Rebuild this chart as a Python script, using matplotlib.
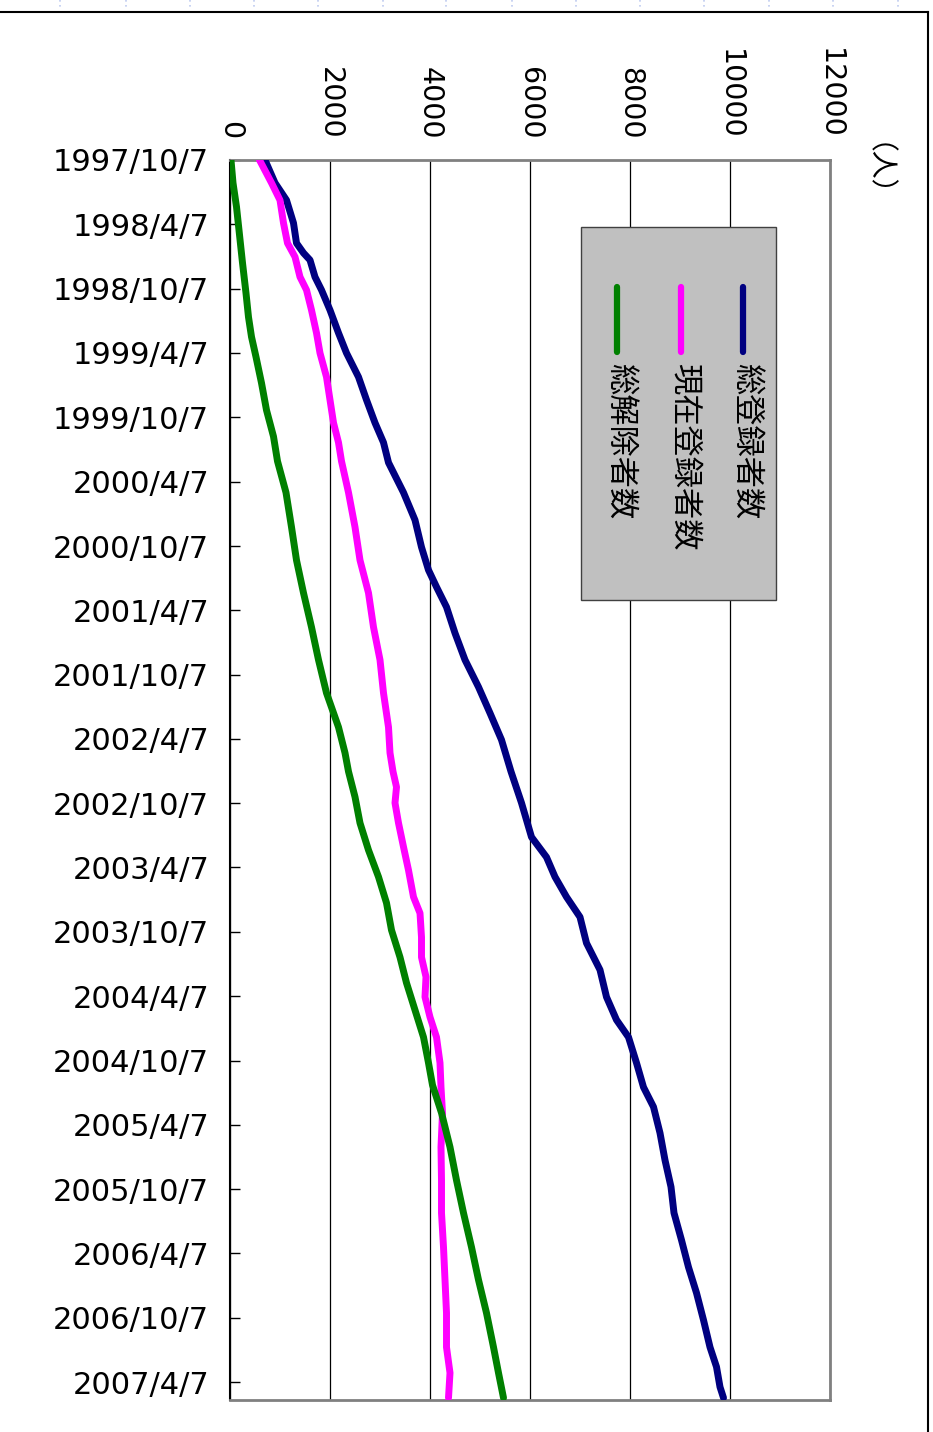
import matplotlib
matplotlib.use('Agg')
import matplotlib.pyplot as plt
import matplotlib.dates as mdates
from matplotlib.lines import Line2D
from matplotlib.patches import Rectangle
import numpy as np

# 総登録者数
total_dates = ['1997-10-07', '1997-12-11', '1998-01-29', '1998-04-04', '1998-05-31',
               '1998-06-28', '1998-07-18', '1998-09-04', '1998-10-11', '1998-12-07',
               '1999-02-10', '1999-04-08', '1999-06-15', '1999-08-19', '1999-10-23',
               '1999-12-18', '2000-02-13', '2000-05-08', '2000-07-25', '2000-10-10',
               '2000-12-14', '2001-01-31', '2001-03-29', '2001-06-11', '2001-08-26',
               '2001-11-11', '2002-01-24', '2002-04-10', '2002-07-09', '2002-10-06',
               '2003-01-11', '2003-03-09', '2003-05-04', '2003-06-30', '2003-08-26',
               '2003-11-08', '2004-01-23', '2004-04-09', '2004-06-13', '2004-08-01',
               '2004-10-13', '2004-12-21', '2005-02-15', '2005-04-30', '2005-07-16',
               '2005-09-30', '2005-12-13', '2006-02-28', '2006-05-16', '2006-07-28',
               '2006-10-13', '2006-12-29', '2007-02-23', '2007-04-21', '2007-05-22']
total_vals = [700, 900, 1130, 1270, 1330,
              1470, 1600, 1700, 1830, 2000,
              2170, 2330, 2570, 2730, 2900,
              3070, 3170, 3470, 3700, 3830,
              3970, 4130, 4330, 4500, 4700,
              4970, 5200, 5430, 5620, 5830,
              6030, 6330, 6500, 6730, 7000,
              7130, 7400, 7530, 7730, 7970,
              8130, 8270, 8470, 8600, 8700,
              8820, 8880, 9030, 9170, 9330,
              9470, 9600, 9730, 9800, 9870]

# 現在登録者数
current_dates = ['1997-10-07', '1997-12-11', '1998-01-29', '1998-04-04', '1998-05-31',
                 '1998-07-09', '1998-09-04', '1998-10-11', '1998-12-07', '1999-02-10',
                 '1999-04-08', '1999-06-15', '1999-08-19', '1999-10-23', '1999-12-18',
                 '2000-02-09', '2000-05-08', '2000-08-14', '2000-11-16', '2001-02-17',
                 '2001-05-25', '2001-08-26', '2001-11-28', '2002-03-05', '2002-05-17',
                 '2002-07-09', '2002-08-22', '2002-10-06', '2002-12-02', '2003-02-08',
                 '2003-04-15', '2003-06-30', '2003-08-15', '2003-10-22', '2003-12-18',
                 '2004-02-12', '2004-04-09', '2004-06-05', '2004-08-01', '2004-10-13',
                 '2004-12-21', '2005-03-04', '2005-06-09', '2005-09-11', '2005-12-13',
                 '2006-03-20', '2006-06-21', '2006-09-23', '2006-12-29', '2007-03-12',
                 '2007-05-22']
current_vals = [590, 830, 1000, 1070, 1150,
                1300, 1400, 1530, 1630, 1730,
                1800, 1930, 2000, 2070, 2170,
                2230, 2370, 2500, 2600, 2770,
                2870, 3000, 3070, 3170, 3200,
                3260, 3330, 3300, 3370, 3470,
                3570, 3670, 3800, 3830, 3830,
                3920, 3900, 4000, 4130, 4200,
                4220, 4250, 4220, 4230, 4230,
                4270, 4300, 4330, 4330, 4400,
                4370]

# 総解除者数
removed_dates = ['1997-10-07', '1997-12-11', '1998-02-17', '1998-04-24', '1998-07-26',
                 '1998-10-20', '1998-12-27', '1999-02-21', '1999-04-19', '1999-07-02',
                 '1999-09-17', '1999-12-01', '2000-02-09', '2000-05-08', '2000-08-14',
                 '2000-11-16', '2001-02-17', '2001-05-25', '2001-08-26', '2001-11-28',
                 '2002-03-05', '2002-05-17', '2002-07-09', '2002-09-19', '2002-12-02',
                 '2003-02-17', '2003-05-04', '2003-07-17', '2003-10-02', '2003-12-18',
                 '2004-02-29', '2004-05-16', '2004-08-01', '2004-10-13', '2004-12-15',
                 '2005-03-04', '2005-06-09', '2005-09-11', '2005-12-13', '2006-03-20',
                 '2006-06-21', '2006-09-23', '2006-12-29', '2007-03-12', '2007-05-22']
removed_vals = [20, 60, 130, 180, 250,
                320, 370, 430, 520, 630,
                730, 870, 950, 1120, 1230,
                1330, 1470, 1630, 1770, 1930,
                2170, 2300, 2370, 2500, 2600,
                2770, 2970, 3130, 3230, 3400,
                3530, 3700, 3870, 3970, 4050,
                4230, 4400, 4530, 4670, 4830,
                4970, 5130, 5270, 5370, 5470]

series_names = ['総登録者数', '現在登録者数', '総解除者数']
series_colors = ['#000080', '#FF00FF', '#008000']

date_ticks = ['1997/10/7', '1998/4/7', '1998/10/7', '1999/4/7', '1999/10/7',
              '2000/4/7', '2000/10/7', '2001/4/7', '2001/10/7', '2002/4/7',
              '2002/10/7', '2003/4/7', '2003/10/7', '2004/4/7', '2004/10/7',
              '2005/4/7', '2005/10/7', '2006/4/7', '2006/10/7', '2007/4/7']
value_ticks = [0, 2000, 4000, 6000, 8000, 10000, 12000]
unit_label = '（人）'


def to_num(strs):
    return mdates.date2num(np.array(strs, dtype='datetime64[D]'))


def tick_num(s):
    y, m, d = s.split('/')
    return to_num(['%s-%02d-%02d' % (y, int(m), int(d))])[0]


W, H = 933, 1432
fig = plt.figure(figsize=(W / 100, H / 100), dpi=100)
ax = fig.add_axes([230 / W, 1 - 1400 / H, 600 / W, 1240 / H])

start = tick_num('1997/10/7')
ax.set_ylim(start + 3520, start)
ax.set_xlim(0, 12000)

for vals, dates, c in zip([total_vals, current_vals, removed_vals],
                          [total_dates, current_dates, removed_dates], series_colors):
    ax.plot(vals, to_num(dates), color=c, lw=5, solid_capstyle='round',
            solid_joinstyle='round', zorder=3)

ax.set_yticks([tick_num(s) for s in date_ticks])
ax.set_yticklabels(date_ticks, fontsize=22, fontfamily='DejaVu Sans')
ax.tick_params(axis='y', direction='in', length=7, width=1, color='black', pad=15)

ax.xaxis.tick_top()
ax.set_xticks(value_ticks)
ax.set_xticklabels([str(v) for v in value_ticks], rotation=-90, fontsize=20.5,
                   fontfamily='DejaVu Sans')
ax.tick_params(axis='x', length=0, pad=15)

ax.set_axisbelow(True)
ax.grid(axis='x', color='black', lw=0.9)
ax.grid(axis='y', visible=False)

ax.spines['left'].set_color('black')
ax.spines['left'].set_linewidth(1.5)
for s in ['top', 'right', 'bottom']:
    ax.spines[s].set_color('#808080')
    ax.spines[s].set_linewidth(2)


def ax_x(px):
    return (px - 230) / 600


def ax_y(py):
    return 1 - (py - 160) / 1240


# legend (rotated like the chart)
ax.add_patch(Rectangle((ax_x(581), ax_y(600)), ax_x(776) - ax_x(581), ax_y(227) - ax_y(600),
                       transform=ax.transAxes, facecolor='#C0C0C0', edgecolor='#404040',
                       lw=1, zorder=5))
for name, c, lx in zip(series_names, series_colors, [743, 681, 617]):
    ax.add_line(Line2D([ax_x(lx), ax_x(lx)], [ax_y(287), ax_y(352)], transform=ax.transAxes,
                       color=c, lw=4.5, solid_capstyle='round', zorder=6))
    ax.text(ax_x(lx + 3), ax_y(363), name, transform=ax.transAxes, rotation=-90,
            ha='center', va='top', fontsize=22.5, fontfamily='Noto Sans CJK JP', zorder=6)

ax.text(ax_x(862), ax_y(184), unit_label, transform=ax.transAxes, rotation=-90,
        ha='center', va='center', fontsize=20, fontfamily='Noto Sans CJK JP', clip_on=False)

# outer chart frame
fig.add_artist(Line2D([0, 928 / W], [1 - 12 / H, 1 - 12 / H], color='black', lw=1.5))
fig.add_artist(Line2D([928 / W, 928 / W], [0, 1 - 12 / H], color='black', lw=1.5))
# sheet cell marks above the frame
for px in [60, 126, 190, 254, 318, 383, 446, 512, 576, 640, 704, 769, 833, 898]:
    fig.add_artist(Line2D([px / W, px / W], [1, 1 - 10 / H], color='#c0ccf0', lw=1.2,
                          linestyle=(0, (1, 2))))

fig.savefig('out.png', dpi=100)
